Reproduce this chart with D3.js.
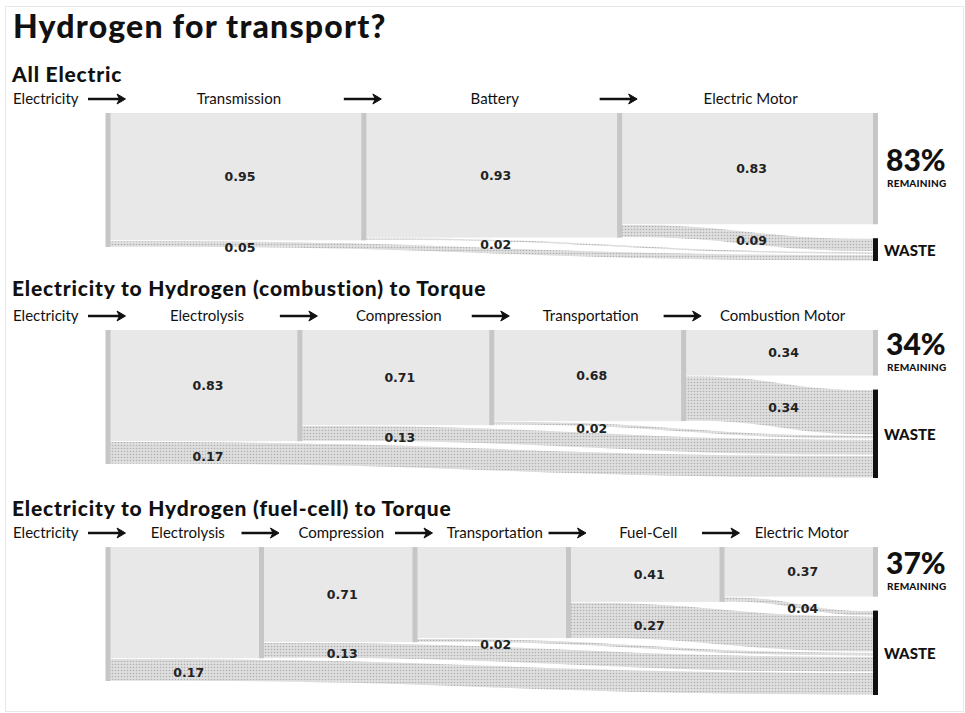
<!DOCTYPE html>
<html>
<head>
<meta charset="utf-8">
<script src="https://cdn.jsdelivr.net/npm/d3@7"></script>
<style>
  body { margin: 0; background: #fff; }
  svg { display: block; }
  text { font-family: Lato, "Open Sans", sans-serif; fill: #111; }
  .num { font-family: "DejaVu Sans", sans-serif; font-weight: bold; font-size: 12.5px; fill: #222; }
</style>
</head>
<body>
<svg id="chart" width="965" height="713"></svg>
<script>
// values
const electricStages = ["Electricity", "Transmission", "Battery", "Electric Motor"]
const electricRemaining = [1, 0.95, 0.93, 0.83]
const electricWaste = [0.05, 0.02, 0.09]
const electricShown = [true, true, true]

const combustionStages = ["Electricity", "Electrolysis", "Compression", "Transportation", "Combustion Motor"]
const combustionRemaining = [1, 0.83, 0.71, 0.68, 0.34]
const combustionWaste = [0.17, 0.13, 0.02, 0.34]
const combustionShown = [true, true, true, true]

const fuelCellStages = ["Electricity", "Electrolysis", "Compression", "Transportation", "Fuel-Cell", "Electric Motor"]
const fuelCellRemaining = [1, 0.83, 0.71, 0.68, 0.41, 0.37]
const fuelCellWaste = [0.17, 0.13, 0.02, 0.27, 0.04]
const fuelCellShown = [false, true, false, true, true]

const charts = [
    { title: "All Electric", stages: electricStages, remaining: electricRemaining, waste: electricWaste, shown: electricShown, titleY: 82, top: 113 },
    { title: "Electricity to Hydrogen (combustion) to Torque", stages: combustionStages, remaining: combustionRemaining, waste: combustionWaste, shown: combustionShown, titleY: 296, top: 330 },
    { title: "Electricity to Hydrogen (fuel-cell) to Torque", stages: fuelCellStages, remaining: fuelCellRemaining, waste: fuelCellWaste, shown: fuelCellShown, titleY: 516, top: 547 }
]

const fullHeight = 134, wasteGap = 14, barW = 5

const svg = d3.select('#chart')

const defs = svg.append('defs')
const pat = defs.append('pattern')
    .attr('id', 'dots')
    .attr('width', 3).attr('height', 3)
    .attr('patternUnits', 'userSpaceOnUse')
pat.append('rect').attr('width', 3).attr('height', 3).attr('fill', '#dfdfdf')
pat.append('circle').attr('cx', 1.5).attr('cy', 1.5).attr('r', 0.8).attr('fill', '#b0b0b0')

svg.append('rect')
    .attr('x', 5.5).attr('y', 6.5).attr('width', 958).attr('height', 705)
    .attr('fill', 'none').attr('stroke', '#e8e8e8')

svg.append('text')
    .attr('x', 13).attr('y', 38)
    .style('font-size', '32px').style('font-weight', 900)
    .style('letter-spacing', '1.2px')
    .text('Hydrogen for transport?')

charts.forEach(c => drawChart(c))

function drawChart(c) {
    const g = svg.append('g')
    const n = c.stages.length - 1
    const x = d3.scalePoint().domain(c.stages).range([108, 875.5])
    const y = d3.scaleLinear().domain([0, 1]).range([c.top, c.top + fullHeight])
    const xEnd = x(c.stages[n])
    const colMid = k => (x(c.stages[k]) + x(c.stages[k + 1])) / 2 + 4

    g.append('text')
        .attr('x', 12).attr('y', c.titleY)
        .style('font-size', '21px').style('font-weight', 900)
        .style('letter-spacing', '0.8px')
        .text(c.title)

    // stage names and arrows
    const labelY = c.top - 9
    g.append('text')
        .attr('x', 13).attr('y', labelY)
        .style('font-size', '15px')
        .text(c.stages[0])

    g.append('g').selectAll('text')
        .data(c.stages.slice(1))
        .join('text')
        .attr('x', (d, i) => colMid(i) - 1)
        .attr('y', labelY)
        .attr('text-anchor', 'middle')
        .style('font-size', '15px')
        .text(d => d)

    const arrowY = labelY - 5
    const arrows = g.append('g').selectAll('g')
        .data(c.stages.slice(0, n))
        .join('g')
        .attr('transform', d => `translate(${x(d)},${arrowY})`)
    arrows.append('path')
        .attr('d', 'M-20,0H13')
        .attr('stroke', '#111').attr('stroke-width', 2.4)
    arrows.append('path')
        .attr('d', 'M9,-5L17.5,0L9,5L11.5,0Z')
        .attr('fill', '#111').attr('stroke', '#111').attr('stroke-width', 1)

    // waste flows, later stages stacked on top at the waste bar
    const wasteTop = y(c.remaining[n]) + wasteGap
    let cum = wasteTop
    const flows = []
    for (let k = n - 1; k >= 0; k--) {
        const h = y(c.remaining[k]) - y(c.remaining[k + 1])
        flows[k] = { k, x0: x(c.stages[k]), s0: y(c.remaining[k + 1]), s1: y(c.remaining[k]), t0: cum, t1: cum + h }
        cum += h
    }
    const wasteBottom = cum

    const flowPath = f => {
        const xm = (f.x0 + xEnd) / 2
        return `M${f.x0},${f.s0}C${xm},${f.s0} ${xm},${f.t0} ${xEnd},${f.t0}` +
            `L${xEnd},${f.t1}C${xm},${f.t1} ${xm},${f.s1} ${f.x0},${f.s1}Z`
    }

    g.append('g').selectAll('path')
        .data(flows)
        .join('path')
        .attr('d', flowPath)
        .attr('fill', 'url(#dots)')
        .attr('stroke', '#fff').attr('stroke-width', 1.2)

    // remaining blocks
    g.append('g').selectAll('rect')
        .data(d3.range(n))
        .join('rect')
        .attr('x', k => x(c.stages[k]))
        .attr('width', k => x(c.stages[k + 1]) - x(c.stages[k]))
        .attr('y', c.top)
        .attr('height', k => y(c.remaining[k + 1]) - c.top)
        .attr('fill', '#e8e8e8')

    // stage bars
    g.append('g').selectAll('rect')
        .data(c.stages)
        .join('rect')
        .attr('x', d => x(d) - barW / 2)
        .attr('width', barW)
        .attr('y', c.top)
        .attr('height', (d, i) => y(c.remaining[i]) - c.top)
        .attr('fill', '#c6c6c6')

    g.append('rect')
        .attr('x', xEnd - barW / 2).attr('width', barW)
        .attr('y', wasteTop).attr('height', wasteBottom - wasteTop)
        .attr('fill', '#111')

    // block values
    g.append('g').selectAll('text')
        .data(d3.range(n).filter(k => c.shown[k]))
        .join('text')
        .attr('class', 'num')
        .attr('x', k => colMid(k))
        .attr('y', k => (c.top + y(c.remaining[k + 1])) / 2)
        .attr('dy', '0.35em')
        .attr('text-anchor', 'middle')
        .text(k => c.remaining[k + 1].toFixed(2))

    // waste values
    g.append('g').selectAll('text')
        .data(flows)
        .join('text')
        .attr('class', 'num')
        .attr('x', f => colMid(f.k))
        .attr('y', f => {
            const t = (colMid(f.k) - f.x0) / (xEnd - f.x0)
            return (f.s0 + f.s1) / 2 + t * ((f.t0 + f.t1) / 2 - (f.s0 + f.s1) / 2) + 2
        })
        .attr('dy', '0.35em')
        .attr('text-anchor', 'middle')
        .text(f => c.waste[f.k].toFixed(2))

    // right side labels
    const remMid = (c.top + y(c.remaining[n])) / 2
    g.append('text')
        .attr('x', 886).attr('y', remMid + 2)
        .style('font-size', '30px').style('font-weight', 900)
        .text(Math.round(c.remaining[n] * 100) + '%')
    g.append('text')
        .attr('x', 887).attr('y', remMid + 18.5)
        .style('font-size', '10px').style('font-weight', 900)
        .style('letter-spacing', '0.2px')
        .text('REMAINING')
    g.append('text')
        .attr('x', 884).attr('y', (wasteTop + wasteBottom) / 2 + 6)
        .style('font-size', '15px').style('font-weight', 900)
        .text('WASTE')
}
</script>
</body>
</html>
